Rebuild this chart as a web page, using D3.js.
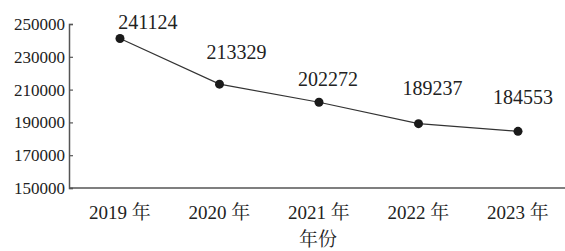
<!DOCTYPE html>
<html>
<head>
<meta charset="utf-8">
<script src="https://cdn.jsdelivr.net/npm/d3@7"></script>
<style>
  body { margin: 0; background: #fff; }
</style>
</head>
<body>
<div id="container"></div>
<script>
const years = ["2019 年", "2020 年", "2021 年", "2022 年", "2023 年"];
const values = [241124, 213329, 202272, 189237, 184553];
const yTicks = [150000, 170000, 190000, 210000, 230000, 250000];

const width = 565, height = 251;
const serif = "'Liberation Serif', 'DejaVu Serif', 'Noto Serif CJK SC', serif";
const svg = d3.select("#container").append("svg")
  .attr("width", width).attr("height", height)
  .attr("font-family", serif);

const x = d3.scalePoint().domain(years).range([120, 518]);
const y = d3.scaleLinear().domain([150000, 250000]).range([188, 24]);

// axes
const yAxis = svg.append("g").attr("transform", "translate(69,0)")
  .call(d3.axisRight(y).tickValues(yTicks).tickSize(4).tickFormat(""));
yAxis.select(".domain").attr("stroke", "#555").attr("stroke-width", 1.5);
yAxis.selectAll(".tick line").attr("stroke", "#555").attr("stroke-width", 1.2);

svg.selectAll(".ylab").data(yTicks).enter().append("text")
  .attr("x", 65).attr("y", d => y(d) + 6)
  .attr("text-anchor", "end").attr("font-size", 17)
  .attr("font-family", serif).attr("fill", "#222")
  .text(d => d);

svg.append("line")
  .attr("x1", 69).attr("x2", width).attr("y1", 188).attr("y2", 188)
  .attr("stroke", "#555").attr("stroke-width", 1.5);

svg.selectAll(".xlab").data(years).enter().append("text")
  .attr("x", d => x(d)).attr("y", 219)
  .attr("text-anchor", "middle").attr("font-size", 19)
  .attr("font-family", serif).attr("fill", "#222")
  .text(d => d);

svg.append("text").attr("x", 318).attr("y", 246)
  .attr("text-anchor", "middle").attr("font-size", 19)
  .attr("font-family", serif).attr("fill", "#222").text("年份");

// line + points
const line = d3.line().x((d, i) => x(years[i])).y(d => y(d));
svg.append("path").datum(values).attr("d", line)
  .attr("fill", "none").attr("stroke", "#333").attr("stroke-width", 1.2);

svg.selectAll(".dot").data(values).enter().append("circle")
  .attr("cx", (d, i) => x(years[i])).attr("cy", d => y(d))
  .attr("r", 4.5).attr("fill", "#1a1a1a");

// value labels, nudged like the original
const dx = [28, 17, 9, 14, 5];
const dy = [-10, -25, -16, -29, -27];
svg.selectAll(".vlab").data(values).enter().append("text")
  .attr("x", (d, i) => x(years[i]) + dx[i])
  .attr("y", (d, i) => y(d) + dy[i])
  .attr("text-anchor", "middle").attr("font-size", 20)
  .attr("font-family", serif).attr("fill", "#222")
  .text(d => d);
</script>
</body>
</html>
